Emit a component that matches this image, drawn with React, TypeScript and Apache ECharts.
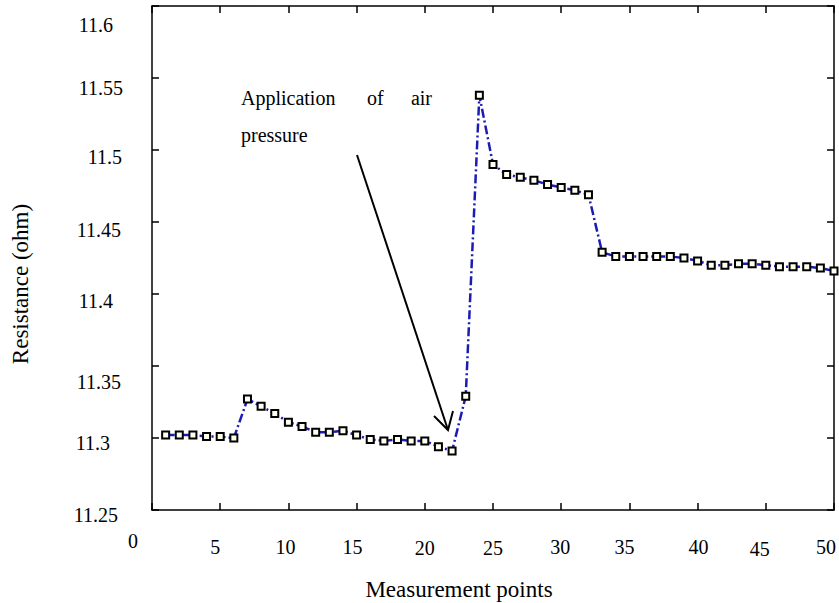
import React, { useEffect, useRef } from "react";
import * as echarts from "echarts";

const measurementPoints = [
  1, 2, 3, 4, 5, 6, 7, 8, 9, 10, 11, 12, 13, 14, 15, 16, 17, 18, 19, 20, 21, 22, 23, 24, 25,
  26, 27, 28, 29, 30, 31, 32, 33, 34, 35, 36, 37, 38, 39, 40, 41, 42, 43, 44, 45, 46, 47, 48, 49, 50,
];
const resistance = [
  11.302, 11.302, 11.302, 11.301, 11.301, 11.3, 11.327, 11.322, 11.317, 11.311,
  11.308, 11.304, 11.304, 11.305, 11.302, 11.299, 11.298, 11.299, 11.298, 11.298,
  11.294, 11.291, 11.329, 11.538, 11.49, 11.483, 11.481, 11.479, 11.476, 11.474,
  11.472, 11.469, 11.429, 11.426, 11.426, 11.426, 11.426, 11.426, 11.425, 11.423,
  11.42, 11.42, 11.421, 11.421, 11.42, 11.419, 11.419, 11.419, 11.418, 11.416,
];
const yTickLabels = ["11.25", "11.3", "11.35", "11.4", "11.45", "11.5", "11.55", "11.6"];
const xTickLabels = ["0", "5", "10", "15", "20", "25", "30", "35", "40", "45", "50"];
const annotationWords = ["Application", "of", "air", "pressure"];

// label nudges (style only): [shift left px, shift down px]
const yLabelNudge: Record<string, [number, number]> = {
  "11.6": [10, 19],
  "11.55": [0, 10],
  "11.5": [1, 7],
  "11.45": [2, 8],
  "11.4": [10, 7],
  "11.35": [2, 16],
  "11.3": [13, 5],
  "11.25": [5, 5],
};
const xLabelNudge: Record<string, [number, number]> = {
  "0": [19, 1],
  "5": [5, 7],
  "10": [3, 7],
  "15": [4, 7],
  "20": [0, 8],
  "25": [0, 8],
  "30": [1, 7],
  "35": [5, 7],
  "40": [-1, 7],
  "45": [6, 9],
  "50": [8, 7],
};

const FONT = "Liberation Serif, Times New Roman, serif";

function fmt(v: number) {
  return parseFloat(v.toFixed(2)).toString();
}

export default function App() {
  const ref = useRef<HTMLDivElement>(null);
  useEffect(() => {
    if (!ref.current) return;
    const chart = echarts.init(ref.current, null, { renderer: "svg" });

    const yRich: Record<string, any> = {};
    yTickLabels.forEach((t, i) => {
      const [l, d] = yLabelNudge[t] || [0, 0];
      yRich["y" + i] = {
        fontFamily: FONT,
        fontSize: 20,
        color: "#000",
        padding: [2 * d, l, 0, 0],
      };
    });
    const xRich: Record<string, any> = {};
    xTickLabels.forEach((t, i) => {
      const [l, d] = xLabelNudge[t] || [0, 0];
      xRich["x" + i] = {
        fontFamily: FONT,
        fontSize: 20,
        color: "#000",
        padding: [d, l > 0 ? 2 * l : 0, 0, l < 0 ? -2 * l : 0],
      };
    });

    const axisLineStyle = { color: "#000", width: 1.5 };
    const tickStyle = { show: true, inside: true, length: 7, lineStyle: { color: "#000", width: 1.5 } };

    chart.setOption({
      animation: false,
      backgroundColor: "#fff",
      textStyle: { fontFamily: FONT },
      grid: { left: 152, right: 5, top: 6, bottom: 93, containLabel: false },
      xAxis: [
        {
          type: "value",
          min: 0,
          max: 50,
          interval: 5,
          position: "bottom",
          axisLine: { show: true, lineStyle: axisLineStyle },
          axisTick: tickStyle,
          splitLine: { show: false },
          axisLabel: {
            margin: 20,
            fontFamily: FONT,
            fontSize: 20,
            color: "#000",
            formatter: (v: number) => {
              const s = fmt(v);
              const i = xTickLabels.indexOf(s);
              return i >= 0 ? `{x${i}|${s}}` : s;
            },
            rich: xRich,
          },
        },
        {
          type: "value",
          min: 0,
          max: 50,
          interval: 5,
          position: "top",
          axisLine: { show: true, onZero: false, lineStyle: axisLineStyle },
          axisTick: tickStyle,
          splitLine: { show: false },
          axisLabel: { show: false },
        },
      ],
      yAxis: [
        {
          type: "value",
          min: 11.25,
          max: 11.6,
          interval: 0.05,
          position: "left",
          axisLine: { show: true, lineStyle: axisLineStyle },
          axisTick: tickStyle,
          splitLine: { show: false },
          axisLabel: {
            margin: 29,
            fontFamily: FONT,
            fontSize: 20,
            color: "#000",
            formatter: (v: number) => {
              const s = fmt(v);
              const i = yTickLabels.indexOf(s);
              return i >= 0 ? `{y${i}|${s}}` : s;
            },
            rich: yRich,
          },
        },
        {
          type: "value",
          min: 11.25,
          max: 11.6,
          interval: 0.05,
          position: "right",
          axisLine: { show: true, onZero: false, lineStyle: axisLineStyle },
          axisTick: tickStyle,
          splitLine: { show: false },
          axisLabel: { show: false },
        },
      ],
      series: [
        {
          type: "line",
          xAxisIndex: 0,
          yAxisIndex: 0,
          data: measurementPoints.map((x, i) => [x, resistance[i]]),
          symbol: "rect",
          symbolSize: 7,
          lineStyle: { color: "#1c1cb4", width: 2.5, type: [9, 3, 2, 3] },
          itemStyle: { color: "#fffff2", borderColor: "#000", borderWidth: 2 },
        },
      ],
      graphic: [
        {
          type: "text",
          x: 459,
          y: 589,
          style: {
            text: "Measurement points",
            fontFamily: FONT,
            fontSize: 23,
            fill: "#000",
            align: "center",
            verticalAlign: "middle",
          },
        },
        {
          type: "text",
          x: 20,
          y: 284,
          rotation: Math.PI / 2,
          style: {
            text: "Resistance (ohm)",
            fontFamily: FONT,
            fontSize: 23,
            fill: "#000",
            align: "center",
            verticalAlign: "middle",
          },
        },
        {
          type: "text",
          x: 241,
          y: 98,
          style: { text: annotationWords[0], fontFamily: FONT, fontSize: 20, fill: "#000", align: "left", verticalAlign: "middle" },
        },
        {
          type: "text",
          x: 367,
          y: 98,
          style: { text: annotationWords[1], fontFamily: FONT, fontSize: 20, fill: "#000", align: "left", verticalAlign: "middle" },
        },
        {
          type: "text",
          x: 432,
          y: 98,
          style: { text: annotationWords[2], fontFamily: FONT, fontSize: 20, fill: "#000", align: "right", verticalAlign: "middle" },
        },
        {
          type: "text",
          x: 241,
          y: 135,
          style: { text: annotationWords[3], fontFamily: FONT, fontSize: 20, fill: "#000", align: "left", verticalAlign: "middle" },
        },
        {
          type: "line",
          shape: { x1: 357, y1: 155, x2: 448, y2: 430 },
          style: { stroke: "#000", lineWidth: 2 },
        },
        {
          type: "polyline",
          shape: { points: [[434, 416], [448, 430], [453, 411]] },
          style: { stroke: "#000", lineWidth: 2, fill: null },
        },
      ],
    });
    return () => chart.dispose();
  }, []);
  return (
    <div
      ref={ref}
      style={{ position: "absolute", left: 0, top: 0, width: 839, height: 603 }}
    />
  );
}
